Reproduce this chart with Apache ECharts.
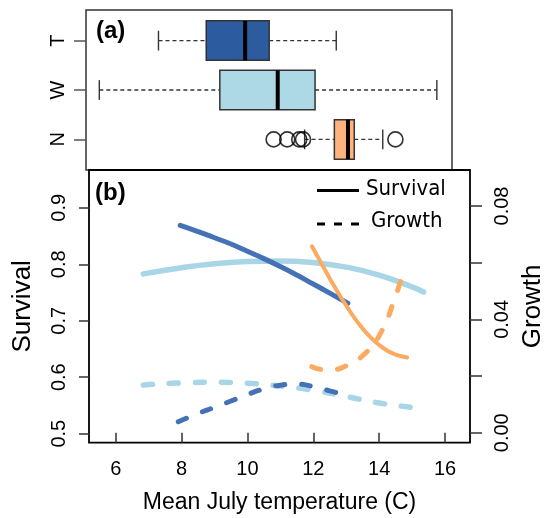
<!DOCTYPE html>
<html><head><meta charset="utf-8">
<script src="https://cdn.jsdelivr.net/npm/echarts@6/dist/echarts.min.js"></script>
<style>html,body{margin:0;padding:0;background:#fff}#c{width:544px;height:518px}</style>
</head><body><div id="c"></div>
<script>
// ---- data ----
const groups = ['N', 'W', 'T'];            // bottom to top
const whiskerLow  = [12.10, 5.61, 7.48];
const quart1      = [13.04, 9.42, 8.99];
const medians     = [13.47, 11.25, 10.22];
const quart3      = [13.67, 12.43, 10.98];
const whiskerHigh = [14.57, 16.28, 13.10];
const outliersN   = [11.12, 11.55, 11.93, 12.05, 14.97];

const xTicks = [6, 8, 10, 12, 14, 16];
const survivalTicks = [0.5, 0.6, 0.7, 0.8, 0.9];
const growthTicks = [0, 0.02, 0.04, 0.06, 0.08];
const growthLabels = [0, 0.04, 0.08];

const survT = [[7.96,0.869],[8.5,0.858],[9,0.847],[9.5,0.836],[10,0.823],[10.5,0.810],[11,0.796],[11.5,0.781],[12,0.765],[12.5,0.749],[13.05,0.731]];
const survW = [[6.84,0.783],[8,0.794],[9,0.801],[10,0.805],[11,0.806],[12,0.803],[13,0.795],[14,0.781],[15,0.760],[15.35,0.751]];
const survN = [[11.96,0.832],[12.25,0.801],[12.5,0.775],[12.75,0.750],[13,0.727],[13.25,0.705],[13.5,0.686],[13.75,0.670],[14,0.657],[14.25,0.647],[14.5,0.640],[14.85,0.635]];
const growT = [[7.9,0.0039],[8.5,0.0068],[9,0.0090],[9.5,0.0112],[10,0.0135],[10.5,0.0155],[11,0.0168],[11.5,0.0172],[12,0.0163],[12.5,0.0148],[13.05,0.0130]];
const growW = [[6.84,0.0168],[7,0.0170],[8,0.0176],[9,0.0178],[10,0.0175],[11,0.0165],[12,0.0150],[13,0.0128],[14,0.0105],[15,0.0089],[15.35,0.0083]];
const growN = [[11.96,0.0233],[12.2,0.0224],[12.5,0.0222],[13,0.0236],[13.5,0.0272],[14,0.0342],[14.5,0.0482],[14.78,0.059]];

// ---- styles ----
const boxFill = {N: '#FFB27E', W: '#ADD8E6', T: '#2C5BA0'};
const curveColor = {N: '#FCAA5F', W: '#A8D6E6', T: '#4571B7'};
const FONT = 'Liberation Sans';
const LEGEND_FONT = '"DejaVu Sans Condensed", "DejaVu Sans"';

const chart = echarts.init(document.getElementById('c'), null, {renderer: 'canvas'});

function survSeries(data, key, width) {
  return {type: 'line', xAxisIndex: 1, yAxisIndex: 1, data: data, smooth: 0.5,
    showSymbol: false, silent: true,
    lineStyle: {color: curveColor[key], width: width, cap: 'round'}};
}
function growSeries(data, key, width) {
  return {type: 'line', xAxisIndex: 1, yAxisIndex: 2, data: data, smooth: 0.5,
    showSymbol: false, silent: true,
    lineStyle: {color: curveColor[key], width: width, type: [9, 17], cap: 'round'}};
}

const option = {
  animation: false,
  textStyle: {fontFamily: FONT},
  grid: [
    {left: 86, right: 92, top: 10, bottom: 348, show: true, borderColor: '#333', borderWidth: 1.5,
      outerBoundsMode: 'none', containLabel: false},
    {left: 89, right: 74, top: 170, bottom: 75.3, show: true, borderColor: '#000', borderWidth: 1.8,
      outerBoundsMode: 'none', containLabel: false}
  ],
  xAxis: [
    {type: 'value', gridIndex: 0, min: 5.189, max: 16.759, show: false},
    {type: 'value', gridIndex: 1, min: 5.189, max: 16.759,
      axisLine: {show: false}, splitLine: {show: false},
      axisTick: {show: true, customValues: xTicks, length: 10, lineStyle: {color: '#333', width: 1.5}},
      axisLabel: {customValues: xTicks, fontSize: 20, color: '#000', margin: 17, fontFamily: FONT},
      name: 'Mean July temperature (C)', nameLocation: 'middle', nameGap: 48,
      nameTextStyle: {fontSize: 23, color: '#000', fontFamily: FONT}}
  ],
  yAxis: [
    {type: 'value', gridIndex: 0, min: 0.38, max: 3.62,
      axisLine: {show: false}, splitLine: {show: false},
      axisTick: {show: true, customValues: [1, 2, 3], length: 12, lineStyle: {color: '#555', width: 1.5}},
      axisLabel: {customValues: [1, 2, 3], formatter: v => groups[Math.round(v) - 1],
        rotate: 90, fontSize: 20, color: '#000', margin: 18, fontFamily: FONT}},
    {type: 'value', gridIndex: 1, min: 0.484, max: 0.967,
      axisLine: {show: false}, splitLine: {show: false},
      axisTick: {show: true, customValues: survivalTicks, length: 10, lineStyle: {color: '#333', width: 1.5}},
      axisLabel: {customValues: survivalTicks, formatter: v => v.toFixed(1),
        rotate: 90, fontSize: 20, color: '#000', margin: 20, fontFamily: FONT},
      name: 'Survival', nameLocation: 'middle', nameGap: 53, nameRotate: 90,
      nameTextStyle: {fontSize: 26, color: '#000', fontFamily: FONT}},
    {type: 'value', gridIndex: 1, position: 'right', min: -0.0035, max: 0.0927,
      axisLine: {show: false}, splitLine: {show: false},
      axisTick: {show: true, customValues: growthTicks, length: 12, lineStyle: {color: '#333', width: 1.5}},
      axisLabel: {customValues: growthLabels, formatter: v => v.toFixed(2),
        rotate: 90, fontSize: 20, color: '#000', margin: 22, fontFamily: FONT},
      name: 'Growth', nameLocation: 'middle', nameGap: 49, nameRotate: 90,
      nameTextStyle: {fontSize: 26, color: '#000', fontFamily: FONT}}
  ],
  series: [
    {
      type: 'custom', xAxisIndex: 0, yAxisIndex: 0, silent: true,
      data: groups.map((g, i) => [i + 1, whiskerLow[i], quart1[i], medians[i], quart3[i], whiskerHigh[i]]),
      encode: {x: [1, 2, 3, 4, 5], y: 0},
      renderItem: function (params, api) {
        const yv = api.value(0);
        const c = v => api.coord([v, yv]);
        const h = api.size([0, 0.8])[1];
        const lo = c(api.value(1)), q1 = c(api.value(2)), md = c(api.value(3)),
              q3 = c(api.value(4)), hi = c(api.value(5));
        const cy = lo[1];
        const whisk = {stroke: '#333', lineWidth: 1.4, lineDash: [4, 3]};
        const solid = {stroke: '#333', lineWidth: 1.4};
        return {type: 'group', children: [
          {type: 'line', shape: {x1: lo[0], y1: cy, x2: q1[0], y2: cy}, style: whisk},
          {type: 'line', shape: {x1: q3[0], y1: cy, x2: hi[0], y2: cy}, style: whisk},
          {type: 'line', shape: {x1: lo[0], y1: cy - h / 4, x2: lo[0], y2: cy + h / 4}, style: solid},
          {type: 'line', shape: {x1: hi[0], y1: cy - h / 4, x2: hi[0], y2: cy + h / 4}, style: solid},
          {type: 'rect', shape: {x: q1[0], y: cy - h / 2, width: q3[0] - q1[0], height: h},
            style: {fill: boxFill[groups[params.dataIndex]], stroke: '#333', lineWidth: 1.5}},
          {type: 'line', shape: {x1: md[0], y1: cy - h / 2, x2: md[0], y2: cy + h / 2},
            style: {stroke: '#000', lineWidth: 4}}
        ]};
      }
    },
    {
      type: 'scatter', xAxisIndex: 0, yAxisIndex: 0, silent: true,
      data: outliersN.map(v => [v, groups.indexOf('N') + 1]),
      symbol: 'circle', symbolSize: 15,
      itemStyle: {color: 'transparent', borderColor: '#000', borderWidth: 1.6}
    },
    survSeries(survW, 'W', 5.5),
    growSeries(growW, 'W', 5.5),
    survSeries(survT, 'T', 5),
    growSeries(growT, 'T', 5),
    survSeries(survN, 'N', 4),
    growSeries(growN, 'N', 5)
  ],
  graphic: [
    {type: 'text', left: 96, top: 19, style: {text: '(a)', font: 'bold 24px "Liberation Sans"', fill: '#000'}},
    {type: 'text', left: 95, top: 181, style: {text: '(b)', font: 'bold 24px "Liberation Sans"', fill: '#000'}},
    {type: 'line', shape: {x1: 317, y1: 190.5, x2: 359, y2: 190.5}, style: {stroke: '#000', lineWidth: 3}},
    {type: 'line', shape: {x1: 317, y1: 224, x2: 359, y2: 224}, style: {stroke: '#000', lineWidth: 3, lineDash: [8, 9]}},
    {type: 'text', left: 366, top: 178, style: {text: 'Survival', font: '22px ' + LEGEND_FONT, fill: '#000'}},
    {type: 'text', left: 371, top: 210, style: {text: 'Growth', font: '22px ' + LEGEND_FONT, fill: '#000'}}
  ]
};
chart.setOption(option);
</script>
</body></html>
